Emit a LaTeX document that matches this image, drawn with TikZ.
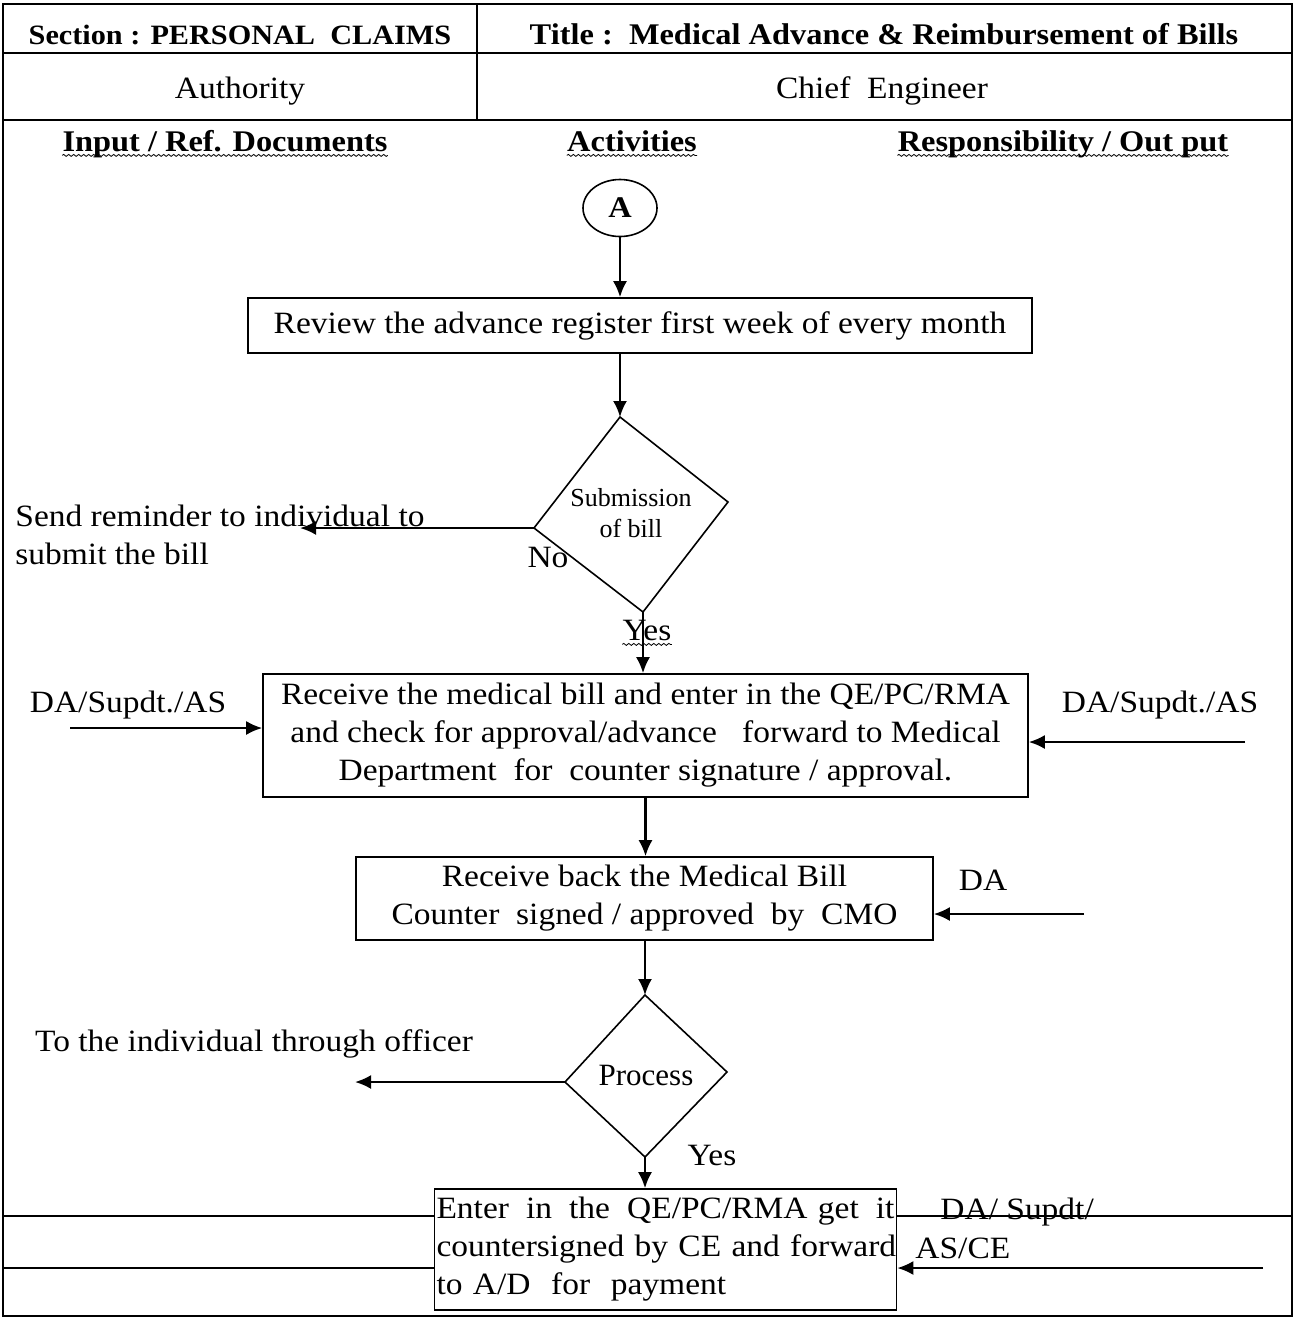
\documentclass[tikz,border=0pt]{standalone}
\usepackage{fontspec}
\setmainfont{Liberation Serif}[FakeStretch=1.08]
\newfontfamily\tnr{Liberation Serif}
\usetikzlibrary{arrows.meta,shapes.geometric,decorations.pathmorphing}
\newcommand\mainsize{\fontsize{15.5}{19}\selectfont}
\newcommand\headsize{\fontsize{15}{19}\selectfont\bfseries}
\begin{document}
\begin{tikzpicture}[x=0.5pt,y=-0.5pt,
  frame/.style={line width=1.2pt},
  rule/.style={line width=1.2pt},
  boxst/.style={draw, line width=0.8pt, align=center, inner sep=0pt, font=\mainsize},
  shapeline/.style={line width=0.8pt, line join=miter},
  flow/.style={line width=1.1pt, -{Latex[length=8pt,width=7pt]}},
  lbl/.style={font=\mainsize, inner sep=0pt},
  head/.style={font=\headsize, inner sep=0pt},
  squig/.style={decorate, decoration={snake, amplitude=0.5pt, segment length=2.5pt}, line width=0.4pt}]
\useasboundingbox (0,0) rectangle (1296,1319);

% outer frame and header table
\draw[frame] (3,4) rectangle (1292,1316);
\draw[frame] (3,53) -- (1292,53);
\draw[frame] (3,120) -- (1292,120);
\draw[frame] (477,4) -- (477,120);

\node[head, font=\fontsize{14}{19}\selectfont\bfseries, anchor=base] (hsec) at (240,44) {Section : PERSONAL\ \ CLAIMS};
\node[head, anchor=base] (htitle) at (884,44) {Title :\ \ Medical Advance \& Reimbursement of Bills};
\node[lbl, anchor=base] (hauth) at (240,98) {Authority};
\node[lbl, anchor=base] (hce) at (882,98) {Chief\ \ Engineer};

\node[head, anchor=base] (hin) at (225,151) {Input / Ref. Documents};
\node[head, anchor=base] (hact) at (632,151) {Activities};
\node[head, anchor=base] (hresp) at (1063,151) {Responsibility / Out put};
\foreach \n in {hin,hact,hresp}
  \draw[squig] ([yshift=-2.2pt]\n.base west) -- ([yshift=-2.2pt]\n.base east);

% connector A
\node[ellipse, draw, line width=0.8pt, minimum width=37pt, minimum height=28.5pt,
      inner sep=0pt, font=\fontsize{15}{19}\selectfont\bfseries] (A) at (620,208) {A};

% review step
\node[boxst, minimum width=392pt, minimum height=27.5pt] (b1) at (640,325.5)
  {Review the advance register first week of every month};

% decision: submission of bill
\coordinate (d1t) at (620,417);
\coordinate (d1r) at (728,502);
\coordinate (d1b) at (643,612);
\coordinate (d1l) at (534,528);
\draw[shapeline] (d1t) -- (d1r) -- (d1b) -- (d1l) -- cycle;
\node[font=\tnr\fontsize{13}{15.5}\selectfont, align=center, inner sep=0pt] (d1txt) at (631,513) {Submission\\of bill};
\node[lbl] (no) at (548,557) {No};
\node[lbl] (yes1) at (647,630) {Yes};
\draw[squig] ([yshift=-2.2pt]yes1.base west) -- ([yshift=-2.2pt]yes1.base east);

\coordinate (remind) at (300,528);
\node[lbl, anchor=west, align=left] (sendrem) at (15,535) {Send reminder to individual to\\submit the bill};

% receive medical bill
\node[boxst, minimum width=382.5pt, minimum height=61.5pt] (b2) at (645.5,735.5)
  {Receive the medical bill and enter in the QE/PC/RMA\\and check for approval/advance\ \ \ forward to Medical\\Department\ \ for\ \ counter signature / approval.};
\node[lbl] (inLtxt) at (128,705) {DA/Supdt./AS};
\node[lbl] (inRtxt) at (1160,705) {DA/Supdt./AS};
\coordinate (inL) at (70,728);
\coordinate (inR) at (1245,742);

% receive back
\node[boxst, minimum width=288.5pt, minimum height=41.5pt] (b3) at (644.5,898.5)
  {Receive back the Medical Bill\\Counter\ \ signed / approved\ \ by\ \ CMO};
\node[lbl] (datxt) at (983,880) {DA};
\coordinate (inDA) at (1084,914);

% decision: process
\coordinate (d2t) at (645,995);
\coordinate (d2r) at (727,1072);
\coordinate (d2b) at (645,1157);
\coordinate (d2l) at (565,1082);
\draw[shapeline] (d2t) -- (d2r) -- (d2b) -- (d2l) -- cycle;
\node[font=\tnr\fontsize{15.5}{18}\selectfont, inner sep=0pt] (d2txt) at (646,1075) {Process};
\node[lbl] (yes2) at (712,1155) {Yes};
\coordinate (toind) at (355,1082);
\node[lbl] (toindtxt) at (254,1044) {To the individual through officer};

% final step (first line justified)
\node[boxst, align=left, text width=229pt, inner xsep=1pt, minimum height=60.5pt] (b4) at (665.5,1249.5)
  {\makebox[229pt][l]{Enter\hfill in\hfill the\hfill QE/PC/RMA get\hfill it}\\\makebox[229pt][l]{countersigned by CE and forward}\\\makebox[229pt][l]{to A/D\ \ for\ \ payment}};
\node[lbl, anchor=west] (ce1) at (940,1212) {DA/ Supdt/};
\node[lbl, anchor=west] (ce2) at (915,1248) {AS/CE};
\coordinate (tl1) at (3,1216);
\coordinate (tr1) at (1292,1216);
\coordinate (tl2) at (3,1268);
\coordinate (inCE) at (1263,1268);
\draw[rule] (tl1) -- (tl1 -| b4.west);
\draw[rule] (tr1) -- (tr1 -| b4.east);
\draw[rule] (tl2) -- (tl2 -| b4.west);

% connectors
\draw[flow] (A.south) -- (A.south |- b1.north);
\draw[flow] (A |- b1.south) -- (d1t);
\draw[flow] (d1l) -- (remind);
\draw[flow] (d1b) -- (d1b |- b2.north);
\draw[flow] (inL) -- (inL -| b2.west);
\draw[flow] (inR) -- (inR -| b2.east);
\draw[flow] (b2.south) -- (b2.south |- b3.north);
\draw[flow] (inDA) -- (inDA -| b3.east);
\draw[flow] (d2t |- b3.south) -- (d2t);
\draw[flow] (d2l) -- (toind);
\draw[flow] (d2b) -- (d2b |- b4.north);
\draw[flow] (inCE) -- (inCE -| b4.east);
\end{tikzpicture}
\end{document}
